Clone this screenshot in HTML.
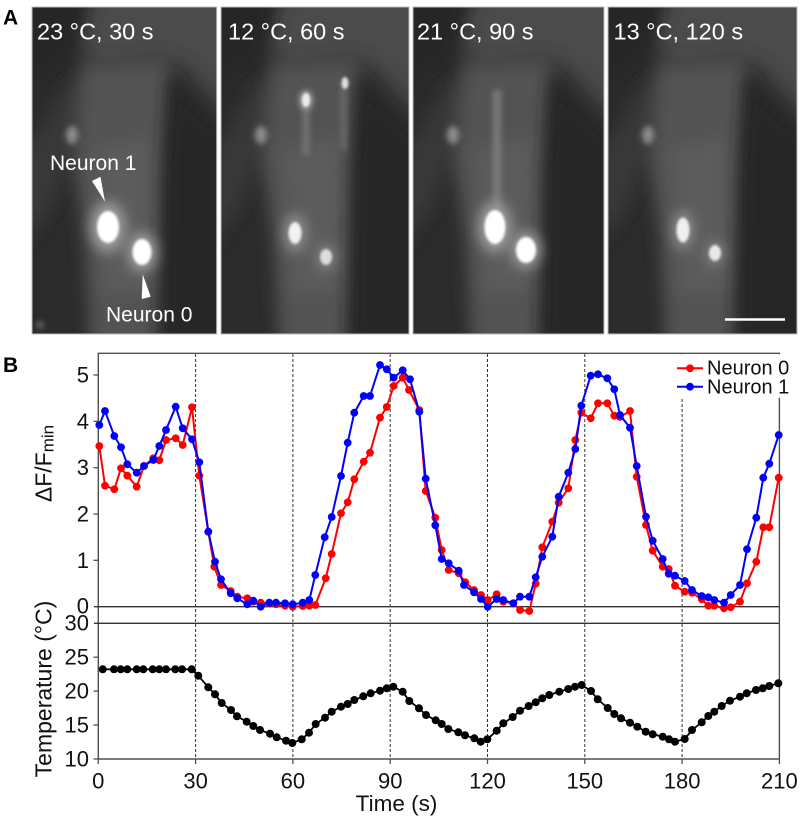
<!DOCTYPE html>
<html><head><meta charset="utf-8"><style>
html,body{margin:0;padding:0;background:#fff;}
svg{display:block;}
text{font-family:"Liberation Sans",Arial,sans-serif;}
</style></head><body>
<svg width="803" height="824" viewBox="0 0 803 824" xmlns="http://www.w3.org/2000/svg">
<defs>
<filter id="b12" x="-60%" y="-60%" width="220%" height="220%"><feGaussianBlur stdDeviation="12"/></filter>
<filter id="b8" x="-60%" y="-60%" width="220%" height="220%"><feGaussianBlur stdDeviation="8"/></filter>
<filter id="b6" x="-80%" y="-80%" width="260%" height="260%"><feGaussianBlur stdDeviation="6"/></filter>
<filter id="b3" x="-80%" y="-80%" width="260%" height="260%"><feGaussianBlur stdDeviation="3"/></filter>
<filter id="b1" x="-80%" y="-80%" width="260%" height="260%"><feGaussianBlur stdDeviation="1.3"/></filter>
<clipPath id="c1"><rect x="32" y="7" width="184.7" height="327"/></clipPath>
<clipPath id="c2"><rect x="221" y="7" width="188" height="327"/></clipPath>
<clipPath id="c3"><rect x="413" y="7" width="191" height="327"/></clipPath>
<clipPath id="c4"><rect x="608" y="7" width="189" height="327"/></clipPath>
<g id="bg">
 <rect x="-5" y="-5" width="205" height="340" fill="#2b2b2b"/>
 <polygon filter="url(#b12)" fill="#4c4c4c" points="62,-20 215,-20 215,125 150,60 130,52 92,58 60,64 45,30"/>
 <polygon filter="url(#b8)" fill="#383838" points="-10,150 40,70 65,80 20,200 -10,240"/>
 <polygon filter="url(#b8)" fill="#525252" points="50,58 140,52 135,150 128,340 58,340 52,230 40,150"/>
 <polygon filter="url(#b8)" fill="#5c5c5c" points="62,140 120,130 118,285 72,285"/>
 <polygon filter="url(#b8)" fill="#272727" points="138,62 165,100 215,140 215,345 130,345 132,160"/>
 <polygon filter="url(#b6)" fill="#262626" points="-10,-10 55,-10 42,45 -10,85"/>
 <ellipse filter="url(#b3)" cx="40" cy="128" rx="6" ry="9" fill="#8a8a8a"/>
</g>
<marker id="mr" markerUnits="userSpaceOnUse" markerWidth="10" markerHeight="10" refX="5" refY="5" overflow="visible"><circle cx="5" cy="5" r="3.9" fill="#ff0000"/></marker>
<marker id="mb" markerUnits="userSpaceOnUse" markerWidth="10" markerHeight="10" refX="5" refY="5" overflow="visible"><circle cx="5" cy="5" r="3.9" fill="#0000ff"/></marker>
<marker id="mk" markerUnits="userSpaceOnUse" markerWidth="10" markerHeight="10" refX="5" refY="5" overflow="visible"><circle cx="5" cy="5" r="4" fill="#000"/></marker>
</defs>
<rect width="803" height="824" fill="#fff"/>

<!-- Panel A -->
<g clip-path="url(#c1)">
 <use href="#bg" transform="translate(32,7)"/>
 <ellipse filter="url(#b6)" cx="108" cy="227" rx="18" ry="26" fill="#9a9a9a"/>
 <ellipse filter="url(#b1)" cx="108" cy="227" rx="11" ry="16" fill="#fff"/>
 <ellipse filter="url(#b6)" cx="142" cy="252" rx="15" ry="20" fill="#999"/>
 <ellipse filter="url(#b1)" cx="142" cy="252" rx="9.5" ry="13" fill="#fff"/>
 <ellipse filter="url(#b3)" cx="40" cy="325" rx="4" ry="4" fill="#666"/>
</g>
<g clip-path="url(#c2)">
 <use href="#bg" transform="translate(221,7)"/>
 <rect filter="url(#b3)" x="303" y="95" width="6" height="60" fill="#777"/>
 <rect filter="url(#b3)" x="341" y="80" width="5" height="70" fill="#6e6e6e"/>
 <ellipse filter="url(#b6)" cx="295" cy="233" rx="12" ry="20" fill="#888"/>
 <ellipse filter="url(#b1)" cx="295" cy="233" rx="6.5" ry="11" fill="#f2f2f2"/>
 <ellipse filter="url(#b6)" cx="326" cy="257" rx="10" ry="14" fill="#7e7e7e"/>
 <ellipse filter="url(#b1)" cx="326" cy="257" rx="6" ry="8" fill="#dcdcdc"/>
 <ellipse filter="url(#b3)" cx="306" cy="100" rx="7" ry="10" fill="#999"/>
 <ellipse filter="url(#b1)" cx="306" cy="100" rx="4" ry="7" fill="#eee"/>
 <ellipse filter="url(#b1)" cx="345" cy="83" rx="3.5" ry="6" fill="#ddd"/>
</g>
<g clip-path="url(#c3)">
 <use href="#bg" transform="translate(413,7)"/>
 <rect filter="url(#b3)" x="493" y="90" width="8" height="120" fill="#7a7a7a"/>
 <ellipse filter="url(#b6)" cx="495" cy="227" rx="17" ry="26" fill="#9a9a9a"/>
 <ellipse filter="url(#b1)" cx="495" cy="227" rx="10.5" ry="17" fill="#fff"/>
 <ellipse filter="url(#b6)" cx="526" cy="250" rx="15" ry="19" fill="#999"/>
 <ellipse filter="url(#b1)" cx="526" cy="250" rx="10" ry="13" fill="#fff"/>
</g>
<g clip-path="url(#c4)">
 <use href="#bg" transform="translate(608,7)"/>
 <ellipse filter="url(#b6)" cx="683" cy="230" rx="11" ry="20" fill="#888"/>
 <ellipse filter="url(#b1)" cx="683" cy="230" rx="6.5" ry="12.5" fill="#f0f0f0"/>
 <ellipse filter="url(#b6)" cx="715" cy="253" rx="9" ry="13" fill="#808080"/>
 <ellipse filter="url(#b1)" cx="715" cy="253" rx="6" ry="8" fill="#e8e8e8"/>
 <line x1="725" y1="319.5" x2="785" y2="319.5" stroke="#fff" stroke-width="2.5"/>
</g>
<g fill="none" stroke="#bdbdbd" stroke-width="1">
 <rect x="32" y="7" width="184.7" height="327"/>
 <rect x="221" y="7" width="188" height="327"/>
 <rect x="413" y="7" width="191" height="327"/>
 <rect x="608" y="7" width="189" height="327"/>
</g>
<g fill="#fff" font-size="23.5">
 <text x="37" y="39.5">23 °C, 30 s</text>
 <text x="228" y="39.5">12 °C, 60 s</text>
 <text x="417" y="39.5">21 °C, 90 s</text>
 <text x="613.5" y="39.5">13 °C, 120 s</text>
</g>
<g fill="#fff" font-size="21">
 <text x="50" y="170">Neuron 1</text>
 <text x="106" y="321.7">Neuron 0</text>
</g>
<polygon fill="#fff" points="92,181 100.5,176.7 105,201.7"/>
<polygon fill="#fff" points="142.7,274.3 141.7,299 150.7,296.7"/>
<text x="3" y="24.5" font-size="21" font-weight="bold" fill="#000">A</text>

<!-- Panel B -->
<text x="3" y="372" font-size="21" font-weight="bold" fill="#000">B</text>

<g stroke="#333" stroke-width="1" stroke-dasharray="3,2">
 <line x1="195.6" y1="354" x2="195.6" y2="759"/>
 <line x1="292.9" y1="354" x2="292.9" y2="759"/>
 <line x1="390.2" y1="354" x2="390.2" y2="759"/>
 <line x1="487.5" y1="354" x2="487.5" y2="759"/>
 <line x1="584.8" y1="354" x2="584.8" y2="759"/>
 <line x1="682.1" y1="354" x2="682.1" y2="759"/>
</g>

<g stroke="#505050" stroke-width="1.4" fill="none">
 <line x1="97.6" y1="353.3" x2="780" y2="353.3"/>
 <line x1="98.3" y1="353.3" x2="98.3" y2="759"/>
 <line x1="779.4" y1="353.3" x2="779.4" y2="759"/>
 <line x1="97.6" y1="759" x2="780" y2="759"/>
</g>
<g stroke="#333" stroke-width="1.3">
 <line x1="94" y1="606.7" x2="779.4" y2="606.7"/>
 <line x1="94" y1="623.3" x2="779.4" y2="623.3"/>
</g>
<g stroke="#505050" stroke-width="1.3">
 <line x1="93.5" y1="375" x2="98.3" y2="375"/>
 <line x1="93.5" y1="421.3" x2="98.3" y2="421.3"/>
 <line x1="93.5" y1="467.7" x2="98.3" y2="467.7"/>
 <line x1="93.5" y1="514" x2="98.3" y2="514"/>
 <line x1="93.5" y1="560.3" x2="98.3" y2="560.3"/>
 <line x1="93.5" y1="657.2" x2="98.3" y2="657.2"/>
 <line x1="93.5" y1="691.1" x2="98.3" y2="691.1"/>
 <line x1="93.5" y1="725" x2="98.3" y2="725"/>
 <line x1="93.5" y1="759" x2="98.3" y2="759"/>
 <line x1="98.3" y1="759" x2="98.3" y2="764"/>
 <line x1="195.6" y1="759" x2="195.6" y2="764"/>
 <line x1="292.9" y1="759" x2="292.9" y2="764"/>
 <line x1="390.2" y1="759" x2="390.2" y2="764"/>
 <line x1="487.5" y1="759" x2="487.5" y2="764"/>
 <line x1="584.8" y1="759" x2="584.8" y2="764"/>
 <line x1="682.1" y1="759" x2="682.1" y2="764"/>
 <line x1="779.4" y1="759" x2="779.4" y2="764"/>
</g>

<g font-size="22" fill="#111" text-anchor="end">
 <text x="89" y="382.5">5</text>
 <text x="89" y="428.8">4</text>
 <text x="89" y="475.2">3</text>
 <text x="89" y="521.5">2</text>
 <text x="89" y="567.8">1</text>
 <text x="89" y="613.5">0</text>
 <text x="89" y="630.5">30</text>
 <text x="89" y="664.7">25</text>
 <text x="89" y="698.6">20</text>
 <text x="89" y="732.5">15</text>
 <text x="89" y="766.5">10</text>
</g>
<g font-size="22" fill="#111" text-anchor="middle">
 <text x="98.3" y="788.7">0</text>
 <text x="195.6" y="788.7">30</text>
 <text x="292.9" y="788.7">60</text>
 <text x="390.2" y="788.7">90</text>
 <text x="487.5" y="788.7">120</text>
 <text x="584.8" y="788.7">150</text>
 <text x="682.1" y="788.7">180</text>
 <text x="779.4" y="788.7">210</text>
</g>
<text x="396.5" y="811" font-size="22.5" fill="#111" text-anchor="middle">Time (s)</text>
<text transform="translate(51.5,463.5) rotate(-90)" font-size="23" fill="#111" text-anchor="middle">ΔF/F<tspan font-size="17" dy="2">min</tspan></text>
<text transform="translate(51.5,689) rotate(-90)" font-size="23" fill="#111" text-anchor="middle">Temperature (°C)</text>

<polyline fill="none" stroke="#000" stroke-width="1.8" marker-start="url(#mk)" marker-mid="url(#mk)" marker-end="url(#mk)" points="102.7,669.3 114,669.3 120.7,669.3 127.3,669.3 136.7,669.3 143.3,669.3 152.7,669.3 159.3,669.3 166,669.3 175.3,669.3 182,669.3 191.7,669.3 198.3,675.7 208.3,687.3 215,694.3 221.7,703 231,710 237,716.3 246.7,721.7 253.3,726 260,730 270,733.7 276.7,737.3 286,740.7 292.3,743 301.7,739.3 309,732.7 315.7,724 325,717.7 331.7,711.7 341,706.7 347.7,704 354.3,700 363.3,696.3 370.7,693.3 380,690.7 386.7,688.3 393.3,686.7 402.7,691.7 409.3,701 419,708.3 426,715 435.7,720.3 441.7,724 448.3,729 458.3,732.3 465,735.3 474.3,738.3 480.7,741.7 487.3,739.3 496.7,730.7 503.3,723.3 512.7,717 520,710.7 528.7,706 535.7,702.3 542.3,698.3 549.3,695 559.3,691.7 568.3,689 575,686.7 581.7,685 591,691 597.7,699.3 607.7,708 614.3,714 621,718.3 630,722.7 637.3,726.7 645.7,731.7 652.7,734.3 662.7,736.7 669,739.3 675,741.7 684.7,739 692,730 701.7,722.3 708.3,716 714.3,711.7 721.7,706 730,700.7 740,696.7 746.7,693.3 756,690 762.7,688.3 769.3,686 778.3,683.3"/>

<polyline fill="none" stroke="#ff0000" stroke-width="2" marker-start="url(#mr)" marker-mid="url(#mr)" marker-end="url(#mr)" points="99.3,446 105,485.7 114.3,489.3 121,468.3 127.3,475.7 136.7,486.7 144,466 153.3,458.3 159.3,460.3 166,440 175.7,438.3 182.7,445 192,407.3 199.3,475.7 208.3,531.7 214.3,566.7 221,585 230.7,591 237.3,596.7 247.3,598.3 253.3,601.7 260.7,602.7 269.3,603.3 276,604.3 285,605.7 292.7,606.7 302.7,606 309.3,605.7 315.3,605 325.7,578.3 331.7,554 341,513.3 347.7,502.3 354.3,479.3 363.7,461.7 370,452.7 380,417.7 386.7,407 393.7,386 402.7,377.7 409,390 419.3,410 425.7,491 435.3,517.7 441.7,550 448.7,570 458.7,573.3 465.3,582.3 474,590 481,595 487.7,600 496.7,594.3 503.3,601.7 513.3,603.3 520,610 529.3,611 535.7,583.7 542.3,547.3 552.3,521.7 558.7,502.7 568.3,488.3 575.3,440 581.3,412.7 590.7,418.3 598,403.3 607.3,403.3 614.3,415.7 620,417 630,411 636.7,476.7 646,525 652.7,550.7 662.7,566.7 668.7,569 675,585.7 684.7,591.7 692,592.7 701.7,599.3 708.3,605.7 714.3,605.7 724,608.3 730.7,607.3 740,601.7 747,583.3 756.3,561.7 763.3,527.3 769.3,527.3 778.7,477.7"/>

<polyline fill="none" stroke="#0000ff" stroke-width="2" marker-start="url(#mb)" marker-mid="url(#mb)" marker-end="url(#mb)" points="99.3,425 105,411 114.3,436 121,447.3 127.3,464.3 136.7,472.7 144,466 153.3,460 159.3,446 166,430 175.7,406.7 182.7,428.3 192,439.3 199.3,462.3 208.3,531.7 215,561.7 221,579.3 230.7,593.3 237.3,598.3 247.3,604.3 253.3,600.7 260.7,606.7 269.3,602.7 276,602.7 285,603.3 292.7,604.3 302.7,602.7 309.3,600 315.3,575 324.7,537.3 331.7,517 341,476 347.7,442.7 354.3,412.7 363.7,396 370,396 380,365 386.7,369.3 393.7,377.7 402.7,370.3 410,379.3 419.3,411.7 425.7,478.7 435.3,525.3 441.7,559 448.7,563.3 458.7,570.7 464,585 474,592.3 481,599 487.7,606.7 496.7,599 503.3,600 513.3,603.3 520,596.7 529.3,596.7 535.7,577.3 542.3,556.7 552.3,536.7 558.7,496.7 568.3,472.7 575.3,449 581.3,405.7 590.7,375.7 598,374.3 607.3,378.3 614.3,389.3 620,415 630,427.7 636.7,466 646,516.7 652.7,540.7 662.7,559 668.7,573.7 675,575.7 684.7,581 692,590 701.7,596 708.3,597.3 714.3,600 724,602.7 730.7,595 740,585 747,549.3 756.3,517.7 763.3,477.7 769.3,463.7 778.7,435"/>

<rect x="668" y="354.3" width="135" height="43.5" fill="#fff"/>
<line x1="677" y1="368.3" x2="703" y2="368.3" stroke="#ff0000" stroke-width="2"/>
<circle cx="690" cy="368.3" r="3.9" fill="#ff0000"/>
<line x1="677" y1="386.7" x2="703" y2="386.7" stroke="#0000ff" stroke-width="2"/>
<circle cx="690" cy="386.7" r="3.9" fill="#0000ff"/>
<g font-size="20" fill="#111">
 <text x="707" y="374.5">Neuron 0</text>
 <text x="707" y="393.5">Neuron 1</text>
</g>
</svg>
</body></html>
